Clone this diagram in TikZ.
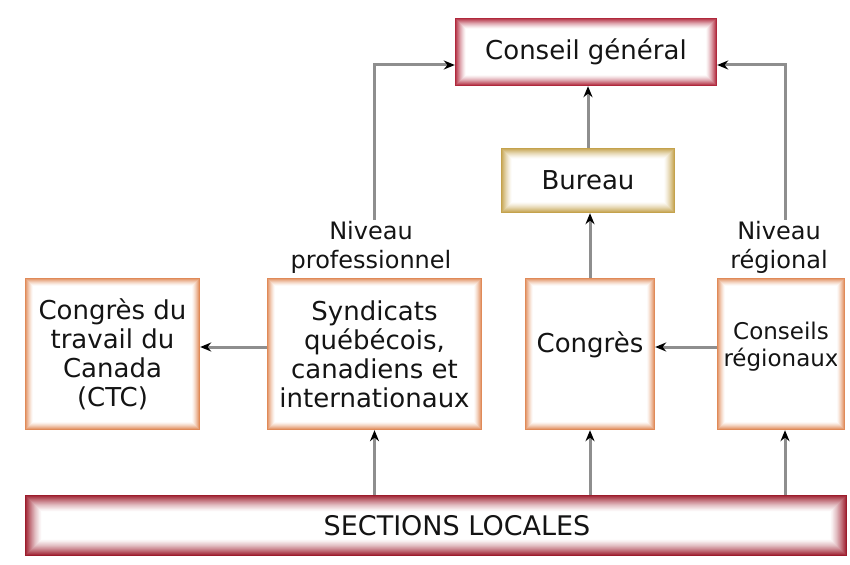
\documentclass[tikz,border=0pt]{standalone}
\usepackage{fontspec}
\setmainfont{DejaVu Sans}
\usetikzlibrary{arrows.meta,calc}
\definecolor{cgred}{HTML}{B0283C}
\definecolor{slred}{HTML}{9C1C2C}
\definecolor{bugold}{HTML}{C4A24C}
\definecolor{boxor}{HTML}{E08A58}
\definecolor{linegray}{HTML}{8E8E8E}
\definecolor{txt}{HTML}{141414}
\tikzset{
  box/.style={draw=none, align=center, inner sep=0pt, text=txt, font=\fontsize{26}{29}\selectfont},
  lbl/.style={align=center, inner sep=1pt, text=txt, font=\fontsize{24}{29}\selectfont},
  conn/.style={draw=linegray, line width=3pt, -{Stealth[length=11pt,width=9pt,black]}},
}
\newcommand\gframe[3]{%
  \foreach \i in {0,...,#3}{%
    \pgfmathtruncatemacro\pc{100*(1-(\i/(#3+1)))^1.4}%
    \draw[#2!\pc!white, line width=1.3pt] ([shift={(\i+0.5,\i+0.5)}]#1.north west) rectangle ([shift={(-\i-0.5,-\i-0.5)}]#1.south east);
  }}
\begin{document}
\begin{tikzpicture}[x=1pt,y=-1pt]
\useasboundingbox (0,0) rectangle (850,564);
\node[box, minimum width=262pt, minimum height=68pt] (cg) at (586,52) {Conseil général};
\node[box, minimum width=174pt, minimum height=65pt] (bu) at (588,180.5) {Bureau};
\node[box, minimum width=175pt, minimum height=152pt] (ctc) at (112.5,354) {Congrès du\\travail du\\Canada\\(CTC)};
\node[box, minimum width=215pt, minimum height=152pt] (syn) at (374.5,354) {Syndicats\\québécois,\\canadiens et\\internationaux};
\node[box, minimum width=130pt, minimum height=152pt, label={[box, yshift=9pt]center:Congrès}] (con) at (590,354) {};
\node[box, minimum width=128pt, minimum height=152pt, label={[box, font=\fontsize{23}{27}\selectfont, yshift=7pt]center:Conseils\\régionaux}] (cr) at (781,354) {};
\node[box, minimum width=822pt, minimum height=61pt, label={[box, font=\fontsize{27}{30}\selectfont, xshift=21pt]center:SECTIONS LOCALES}] (sl) at (436,525.5) {};
\node[lbl] (np) at (371,247) {Niveau\\professionnel};
\node[lbl] (nr) at (779,247) {Niveau\\régional};
\gframe{cg}{cgred}{10}
\gframe{bu}{bugold}{10}
\gframe{ctc}{boxor}{7}
\gframe{syn}{boxor}{7}
\gframe{con}{boxor}{7}
\gframe{cr}{boxor}{7}
\gframe{sl}{slred}{16}
\draw[conn] (np.north -| syn.north) |- ([yshift=-13pt]cg.west);
\draw[conn] ($(nr.north -| cr.north)+(4,0)$) |- ([yshift=-13pt]cg.east);
\draw[conn] (bu.north) -- (bu.north |- cg.south);
\draw[conn] (con.north) -- (con.north |- bu.south);
\draw[conn] ([yshift=7pt]syn.west) -- ([yshift=7pt]ctc.east);
\draw[conn] ([yshift=7pt]cr.west) -- ([yshift=7pt]con.east);
\draw[conn] (sl.north -| syn.south) -- (syn.south);
\draw[conn] (sl.north -| con.south) -- (con.south);
\draw[conn] ($(sl.north -| cr.south)+(4,0)$) -- ($(cr.south)+(4,0)$);
\end{tikzpicture}
\end{document}
